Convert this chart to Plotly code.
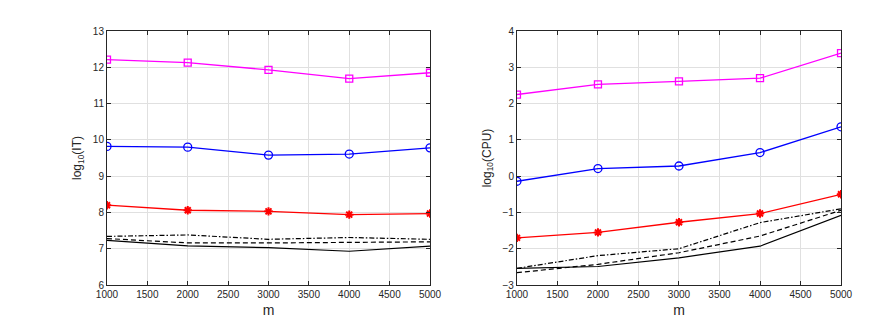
import plotly.graph_objects as go

# x values (m)
m = [1000, 2000, 3000, 4000, 5000]

# left panel: log10(IT)
it_magenta = [12.21, 12.13, 11.93, 11.69, 11.85]
it_blue = [9.82, 9.80, 9.58, 9.61, 9.78]
it_red = [8.20, 8.06, 8.03, 7.94, 7.97]
it_dashdot = [7.34, 7.38, 7.26, 7.31, 7.26]
it_dash = [7.28, 7.16, 7.16, 7.18, 7.19]
it_solid = [7.23, 7.08, 7.03, 6.93, 7.07]

# right panel: log10(CPU)
cpu_magenta = [2.25, 2.53, 2.61, 2.70, 3.39]
cpu_blue = [-0.14, 0.21, 0.28, 0.65, 1.36]
cpu_red = [-1.70, -1.55, -1.27, -1.03, -0.50]
cpu_dashdot = [-2.54, -2.19, -2.00, -1.28, -0.90]
cpu_dash = [-2.66, -2.43, -2.11, -1.65, -0.94]
cpu_solid = [-2.54, -2.49, -2.25, -1.93, -1.08]

fig = go.Figure()


def add_panel(ys, xa, ya):
    mag, blu, red, dd, da, so = ys
    fig.add_trace(go.Scatter(x=m, y=mag, mode="lines+markers", xaxis=xa, yaxis=ya,
                             line=dict(color="#ff00ff", width=1.3),
                             marker=dict(symbol="square-open", size=7, color="#ff00ff", line=dict(width=1.3))))
    fig.add_trace(go.Scatter(x=m, y=blu, mode="lines+markers", xaxis=xa, yaxis=ya,
                             line=dict(color="#0000ff", width=1.3),
                             marker=dict(symbol="circle-open", size=8, color="#0000ff", line=dict(width=1.3))))
    fig.add_trace(go.Scatter(x=m, y=red, mode="lines+markers", xaxis=xa, yaxis=ya,
                             line=dict(color="#ff0000", width=1.3),
                             marker=dict(symbol="asterisk-open", size=7, color="#ff0000", line=dict(width=2, color="#ff0000"))))
    fig.add_trace(go.Scatter(x=m, y=dd, mode="lines", xaxis=xa, yaxis=ya,
                             line=dict(color="black", width=1.2, dash="5px,2px,1.5px,2px")))
    fig.add_trace(go.Scatter(x=m, y=da, mode="lines", xaxis=xa, yaxis=ya,
                             line=dict(color="black", width=1.2, dash="5px,3px")))
    fig.add_trace(go.Scatter(x=m, y=so, mode="lines", xaxis=xa, yaxis=ya,
                             line=dict(color="black", width=1.2)))


add_panel([it_magenta, it_blue, it_red, it_dashdot, it_dash, it_solid], "x", "y")
add_panel([cpu_magenta, cpu_blue, cpu_red, cpu_dashdot, cpu_dash, cpu_solid], "x2", "y2")

ax = dict(showline=True, mirror="ticks", linecolor="#262626", linewidth=1,
          ticks="inside", ticklen=4, tickcolor="#262626", automargin=False,
          showgrid=True, gridcolor="#e0e0e0", gridwidth=1, zeroline=False,
          tickfont=dict(family="Liberation Sans, Arial", size=10, color="#262626"))

xax = dict(ax, range=[1000, 5000], dtick=500, tick0=1000,
           title=dict(text="m", font=dict(family="Liberation Sans, Arial", size=14, color="#262626"), standoff=6))

# page body adds ~7px offset, so domains are shifted to compensate
fig.update_layout(
    width=879, height=329,
    margin=dict(l=0, r=0, t=0, b=0),
    paper_bgcolor="white", plot_bgcolor="white",
    showlegend=False,
    xaxis=dict(xax, domain=[0.1126, 0.4801], anchor="y"),
    yaxis=dict(ax, domain=[0.158, 0.930], range=[6, 13], dtick=1, anchor="x",
               title=dict(text="log<sub>10</sub>(IT)", font=dict(family="Liberation Sans, Arial", size=12, color="#262626"), standoff=8)),
    xaxis2=dict(xax, domain=[0.579, 0.9477], anchor="y2"),
    yaxis2=dict(ax, domain=[0.158, 0.930], range=[-3, 4], dtick=1, anchor="x2",
                title=dict(text="log<sub>10</sub>(CPU)", font=dict(family="Liberation Sans, Arial", size=12, color="#262626"), standoff=8)),
)

fig.write_html("out.html")
